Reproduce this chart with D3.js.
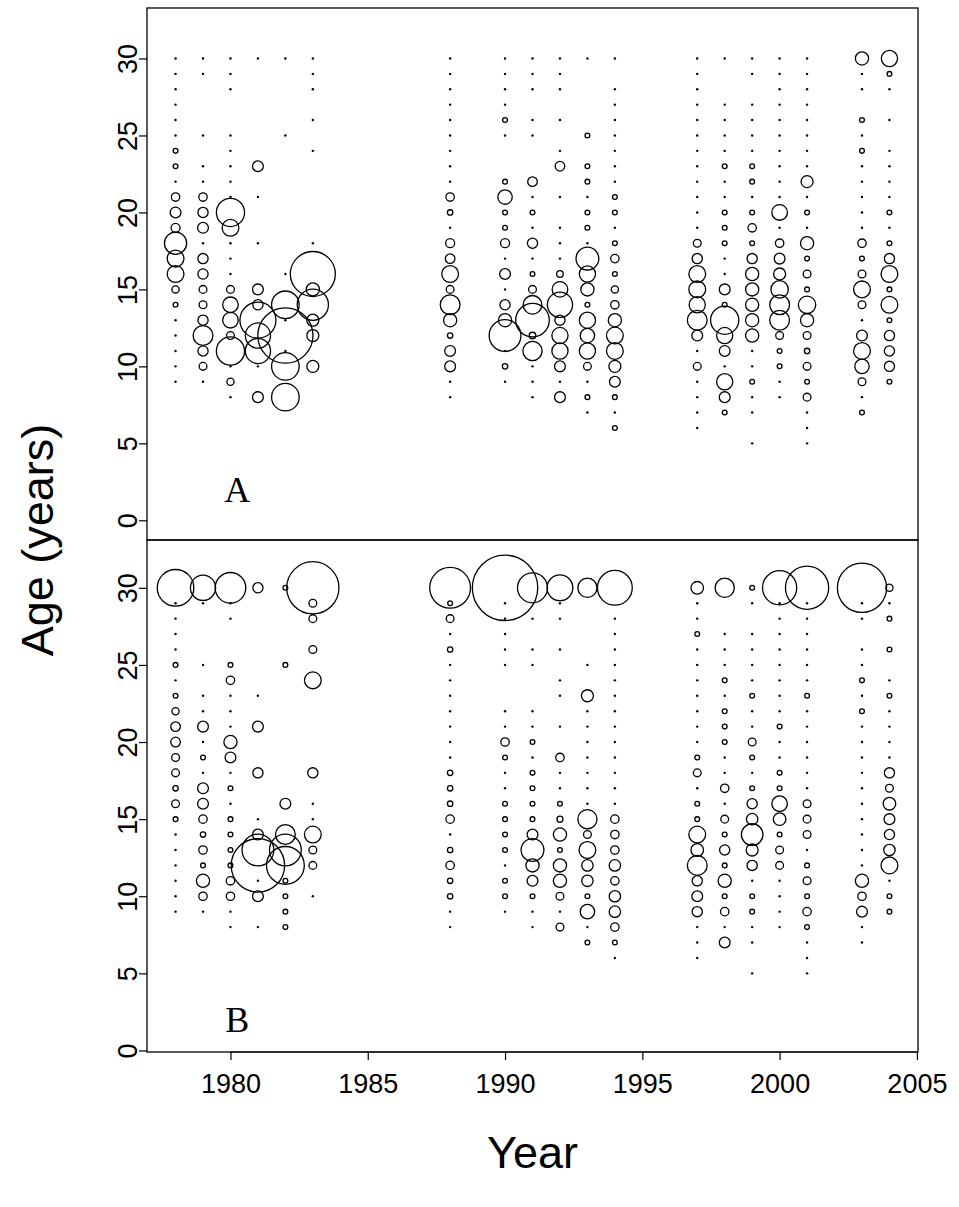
<!DOCTYPE html>
<html>
<head>
<meta charset="utf-8">
<script src="https://cdn.jsdelivr.net/npm/d3@7"></script>
<style>
  body { margin: 0; background: #fff; }
  text { font-family: "Liberation Sans", Arial, Helvetica, sans-serif; fill: #000; }
</style>
</head>
<body>
<svg id="chart" width="959" height="1207"></svg>
<script>
// Bubble size per survey year and age class; 0 = age class present but negligible (drawn as a dot).
const panelA = [
  [1978, [[30,0],[29,0],[28,0],[27,0],[26,0],[25,0],[24,.08],[23,.08],[22,0],[21,.14],[20,.18],[19,.15],[18,.37],[17,.28],[16,.28],[15,.12],[14,.08],[13,0],[12,0],[11,0],[10,0],[9,0]]],
  [1979, [[30,0],[29,0],[25,0],[23,0],[22,0],[21,.14],[20,.17],[19,.18],[18,0],[17,.17],[16,.17],[15,.13],[14,.13],[13,.17],[12,.33],[11,.17],[10,.13],[9,0]]],
  [1980, [[30,0],[29,0],[28,0],[25,0],[24,0],[23,0],[22,0],[21,0],[20,.47],[19,.28],[18,0],[17,0],[16,0],[15,.13],[14,.26],[13,.26],[12,.13],[11,.47],[10,0],[9,.12],[8,0]]],
  [1981, [[30,0],[23,.18],[21,0],[18,0],[15,.18],[14,.17],[13,.6],[12,.42],[11,.42],[10,0],[8,.18]]],
  [1982, [[30,0],[25,0],[16,0],[14,.46],[13,0],[12,.92],[11,0],[10,.46],[8,.46]]],
  [1983, [[30,0],[29,0],[28,0],[26,0],[24,0],[18,0],[16,.75],[15,.22],[14,.52],[13,.2],[12,.2],[10,.2]]],
  [1988, [[30,0],[29,0],[28,0],[27,0],[26,0],[25,0],[24,0],[23,0],[22,0],[21,.14],[20,.09],[19,0],[18,.15],[17,.16],[16,.28],[15,.13],[14,.33],[13,.22],[12,.09],[11,.18],[10,.18],[9,0],[8,0]]],
  [1990, [[30,0],[29,0],[28,0],[27,0],[26,.08],[25,0],[22,.08],[21,.24],[20,.08],[19,.08],[18,.15],[17,0],[16,.18],[15,0],[14,.17],[13,.22],[12,.53],[11,0],[10,.09],[9,0]]],
  [1991, [[30,0],[29,0],[28,0],[26,0],[25,0],[22,.16],[21,0],[20,.08],[19,0],[18,.17],[17,0],[16,.08],[15,.13],[14,.31],[13,.56],[12,.11],[11,.32],[10,0],[9,0],[8,0]]],
  [1992, [[30,0],[29,0],[28,0],[26,0],[24,0],[23,.16],[21,0],[19,0],[18,0],[17,0],[16,.11],[15,.26],[14,.42],[13,.17],[12,.27],[11,.27],[10,.18],[9,0],[8,.18]]],
  [1993, [[30,0],[25,.08],[23,.08],[22,.08],[21,0],[20,.08],[19,.08],[18,0],[17,.38],[16,.27],[15,.22],[14,.08],[13,.27],[12,.24],[11,.27],[10,.13],[9,0],[8,.08],[7,0]]],
  [1994, [[30,0],[28,0],[27,0],[26,0],[25,0],[24,0],[23,0],[22,0],[21,.08],[20,.08],[19,0],[18,.08],[17,.14],[16,.08],[15,.12],[14,.14],[13,.22],[12,.28],[11,.28],[10,.2],[9,.18],[8,.08],[7,0],[6,.08]]],
  [1997, [[30,0],[29,0],[28,0],[27,0],[26,0],[25,0],[24,0],[23,0],[22,0],[21,0],[20,0],[19,0],[18,.13],[17,.17],[16,.28],[15,.28],[14,.27],[13,.33],[12,.18],[11,0],[10,.13],[9,0],[8,0],[7,0],[6,0]]],
  [1998, [[30,0],[27,0],[26,0],[25,0],[24,0],[23,.08],[22,0],[21,0],[20,.08],[19,.08],[18,.08],[17,0],[16,0],[15,.18],[14,.08],[13,.47],[12,.27],[11,.18],[10,0],[9,.27],[8,.18],[7,.08]]],
  [1999, [[30,0],[29,0],[27,0],[26,0],[25,0],[24,0],[23,.08],[22,.08],[21,0],[20,.08],[19,.14],[18,.08],[17,.17],[16,.22],[15,.22],[14,.22],[13,.22],[12,.22],[11,0],[10,0],[9,.08],[8,0],[7,0],[5,0]]],
  [2000, [[30,0],[29,0],[28,0],[27,0],[26,0],[25,0],[24,0],[23,0],[22,0],[21,0],[20,.26],[19,0],[18,.14],[17,.18],[16,.2],[15,.29],[14,.33],[13,.33],[12,.13],[11,.08],[10,.08],[9,0],[8,0]]],
  [2001, [[30,0],[29,0],[28,0],[27,0],[26,0],[25,0],[24,0],[23,0],[22,.2],[21,0],[20,.08],[19,0],[18,.22],[17,.08],[16,.13],[15,.08],[14,.29],[13,.22],[12,.13],[11,.09],[10,.13],[9,.08],[8,.13],[7,0],[6,0],[5,0]]],
  [2003, [[30,.22],[29,0],[28,0],[26,.08],[25,0],[24,.08],[23,0],[22,0],[21,0],[20,0],[19,0],[18,.14],[17,.08],[16,.13],[15,.28],[14,.13],[13,0],[12,.18],[11,.28],[10,.24],[9,.13],[8,0],[7,.08]]],
  [2004, [[30,.27],[29,.08],[28,0],[26,0],[24,0],[23,0],[22,0],[21,0],[20,.08],[19,0],[18,.08],[17,.17],[16,.28],[15,.08],[14,.28],[13,.08],[12,.17],[11,.17],[10,.17],[9,.08]]]
];

const panelB = [
  [1978, [[30,.61],[29,0],[28,0],[27,0],[26,0],[25,.08],[24,0],[23,.08],[22,.12],[21,.16],[20,.16],[19,.13],[18,.13],[17,.09],[16,.13],[15,.08],[14,0],[13,0],[12,0],[11,0],[10,0],[9,0]]],
  [1979, [[30,.42],[29,0],[25,0],[23,0],[22,0],[21,.18],[20,0],[19,.08],[18,0],[17,.18],[16,.18],[15,.14],[14,.09],[13,.14],[12,.08],[11,.22],[10,.14],[9,0]]],
  [1980, [[30,.51],[29,0],[28,0],[25,.08],[24,.14],[23,0],[22,0],[21,0],[20,.22],[19,.18],[18,0],[17,.08],[16,0],[15,.08],[14,.08],[13,.08],[12,.08],[11,.14],[10,.14],[9,0],[8,0]]],
  [1981, [[30,.17],[23,0],[21,.18],[18,.17],[15,0],[14,.18],[13,.53],[12,.89],[11,0],[10,.18],[8,0]]],
  [1982, [[30,.08],[25,.08],[16,.18],[14,.33],[13,.53],[12,.63],[11,.08],[10,.08],[9,.08],[8,.08]]],
  [1983, [[30,.87],[29,.13],[28,.13],[26,.13],[24,.28],[18,.17],[16,0],[15,0],[14,.28],[13,.13],[12,.13],[10,0]]],
  [1988, [[30,.68],[29,.08],[28,.13],[27,0],[26,.09],[25,0],[24,0],[23,0],[22,0],[21,0],[20,0],[19,0],[18,.09],[17,.09],[16,.09],[15,.14],[14,0],[13,.09],[12,.14],[11,.09],[10,.09],[9,0],[8,0]]],
  [1990, [[30,1.09],[29,0],[28,0],[27,0],[26,0],[25,0],[22,0],[21,0],[20,.14],[19,.08],[18,0],[17,0],[16,.08],[15,.08],[14,.08],[13,.08],[12,0],[11,.08],[10,.08],[9,0]]],
  [1991, [[30,.5],[28,0],[26,0],[25,0],[22,0],[21,0],[20,.08],[19,0],[18,.08],[17,.08],[16,.08],[15,.08],[14,.18],[13,.38],[12,.22],[11,.18],[10,.08],[9,0],[8,0]]],
  [1992, [[30,.43],[29,0],[28,0],[26,0],[24,0],[23,0],[21,0],[19,.14],[18,0],[17,0],[16,.08],[15,.1],[14,.22],[13,.08],[12,.22],[11,.22],[10,.13],[9,0],[8,.13]]],
  [1993, [[30,.32],[25,0],[23,.2],[22,0],[21,0],[20,0],[19,0],[18,0],[17,0],[16,0],[15,.32],[14,.13],[13,.28],[12,.19],[11,.19],[10,.08],[9,.24],[8,0],[7,.08]]],
  [1994, [[30,.58],[28,0],[27,0],[26,0],[25,0],[24,0],[23,0],[22,0],[21,0],[20,0],[19,0],[18,0],[17,0],[16,0],[15,.14],[14,.14],[13,.14],[12,.19],[11,.14],[10,.19],[9,.19],[8,.14],[7,.08],[6,0]]],
  [1997, [[30,.21],[29,0],[28,0],[27,.08],[26,0],[25,0],[24,0],[23,0],[22,0],[21,0],[20,0],[19,.08],[18,.13],[17,0],[16,.08],[15,.08],[14,.28],[13,.21],[12,.33],[11,.17],[10,.18],[9,.17],[8,0],[7,0],[6,0]]],
  [1998, [[30,.32],[27,0],[26,0],[25,0],[24,.08],[23,0],[22,.08],[21,.08],[20,.08],[19,0],[18,0],[17,.14],[16,0],[15,.13],[14,.08],[13,.17],[12,.08],[11,.22],[10,.08],[9,.14],[8,0],[7,.18]]],
  [1999, [[30,.08],[29,0],[27,0],[26,0],[25,0],[24,0],[23,.08],[22,0],[21,0],[20,.13],[19,.08],[18,0],[17,.08],[16,.17],[15,.19],[14,.36],[13,.2],[12,.17],[11,0],[10,.08],[9,.08],[8,0],[7,0],[5,0]]],
  [2000, [[30,.57],[29,0],[28,0],[27,0],[26,0],[25,0],[24,0],[23,0],[22,0],[21,.08],[20,0],[19,0],[18,.08],[17,.08],[16,.26],[15,.21],[14,.08],[13,.13],[12,.13],[11,0],[10,0],[9,0],[8,0]]],
  [2001, [[30,.72],[29,0],[28,0],[27,0],[26,0],[25,0],[24,0],[23,.08],[22,0],[21,0],[20,0],[19,0],[18,0],[17,0],[16,.13],[15,.13],[14,.13],[13,0],[12,.08],[11,.13],[10,.08],[9,.14],[8,.08],[7,0],[6,0],[5,0]]],
  [2003, [[30,.82],[29,0],[28,0],[26,0],[25,0],[24,.08],[23,0],[22,.08],[21,0],[20,0],[19,0],[18,0],[17,0],[16,0],[15,0],[14,0],[13,0],[12,0],[11,.22],[10,.14],[9,.18],[8,0],[7,0]]],
  [2004, [[30,.12],[29,0],[28,.08],[26,.08],[24,0],[23,.08],[22,0],[21,0],[20,0],[19,0],[18,.17],[17,.13],[16,.21],[15,.18],[14,.17],[13,.19],[12,.28],[11,0],[10,.08],[9,.08]]]
];

const xTicks = [1980, 1985, 1990, 1995, 2000, 2005];
const yTicks = [0, 5, 10, 15, 20, 25, 30];
const panelLabels = ["A", "B"];
const xTitle = "Year";
const yTitle = "Age (years)";

const svg = d3.select("#chart");
const left = 147, right = 918;

const x = d3.scaleLinear().domain([1976.96, 2005.04]).range([left, right]);
const r = d3.scaleLinear().domain([0, 1]).range([0, 30]);

const panels = [
  { data: panelA, label: panelLabels[0], y: d3.scaleLinear().domain([-1.28, 33.28]).range([540, 8]) },
  { data: panelB, label: panelLabels[1], y: d3.scaleLinear().domain([-0.1, 33.1]).range([1052, 540]) }
];

panels.forEach((p, i) => {
  const [y0, y1] = p.y.range();
  const g = svg.append("g");

  // frame
  g.append("rect")
    .attr("x", left).attr("y", y1)
    .attr("width", right - left).attr("height", y0 - y1)
    .attr("fill", "none").attr("stroke", "#000").attr("stroke-width", 1.3);

  // y axis with labels running parallel to the axis
  const ya = g.append("g")
    .attr("transform", `translate(${left},0)`)
    .call(d3.axisLeft(p.y).tickValues(yTicks).tickSize(8).tickSizeOuter(0));
  ya.select(".domain").remove();
  ya.selectAll(".tick line").attr("stroke", "#000").attr("stroke-width", 1.2);
  ya.selectAll(".tick text")
    .attr("x", null).attr("dy", null)
    .attr("transform", "translate(-10,0) rotate(-90)")
    .attr("text-anchor", "middle")
    .style("font-size", "27px");

  const cells = p.data.flatMap(([year, ages]) =>
    ages.map(([age, v]) => ({ year, age, v })));

  // negligible classes as dots
  g.selectAll("circle.dot")
    .data(cells.filter(d => d.v === 0))
    .join("circle")
    .attr("class", "dot")
    .attr("cx", d => x(d.year)).attr("cy", d => p.y(d.age))
    .attr("r", 1.2).attr("fill", "#000");

  // bubbles
  g.selectAll("circle.bub")
    .data(cells.filter(d => d.v > 0))
    .join("circle")
    .attr("class", "bub")
    .attr("cx", d => x(d.year)).attr("cy", d => p.y(d.age))
    .attr("r", d => r(d.v))
    .attr("fill", "none").attr("stroke", "#000").attr("stroke-width", 1.3);

  // panel letter
  g.append("text")
    .attr("x", x(1980.25)).attr("y", p.y(2)).attr("dy", "0.35em")
    .attr("text-anchor", "middle")
    .style("font-family", "'Liberation Serif', 'Times New Roman', serif")
    .style("font-size", "36px")
    .text(p.label);
});

// x axis under the lower panel
const xa = svg.append("g")
  .attr("transform", "translate(0,1052)")
  .call(d3.axisBottom(x).tickValues(xTicks).tickFormat(d3.format("d")).tickSize(8).tickSizeOuter(0));
xa.select(".domain").attr("d", `M${x(1980)},0H${x(2005)}`).attr("stroke", "#000").attr("stroke-width", 1.2);
xa.selectAll(".tick line").attr("stroke", "#000").attr("stroke-width", 1.2);
xa.selectAll(".tick text").attr("y", 19).attr("dy", "0.8em").style("font-size", "27px");

svg.append("text")
  .attr("x", x(1991)).attr("y", 1168)
  .attr("text-anchor", "middle")
  .style("font-size", "45px")
  .text(xTitle);

svg.append("text")
  .attr("transform", `translate(53,${540}) rotate(-90)`)
  .attr("text-anchor", "middle")
  .style("font-size", "45px")
  .text(yTitle);
</script>
</body>
</html>
